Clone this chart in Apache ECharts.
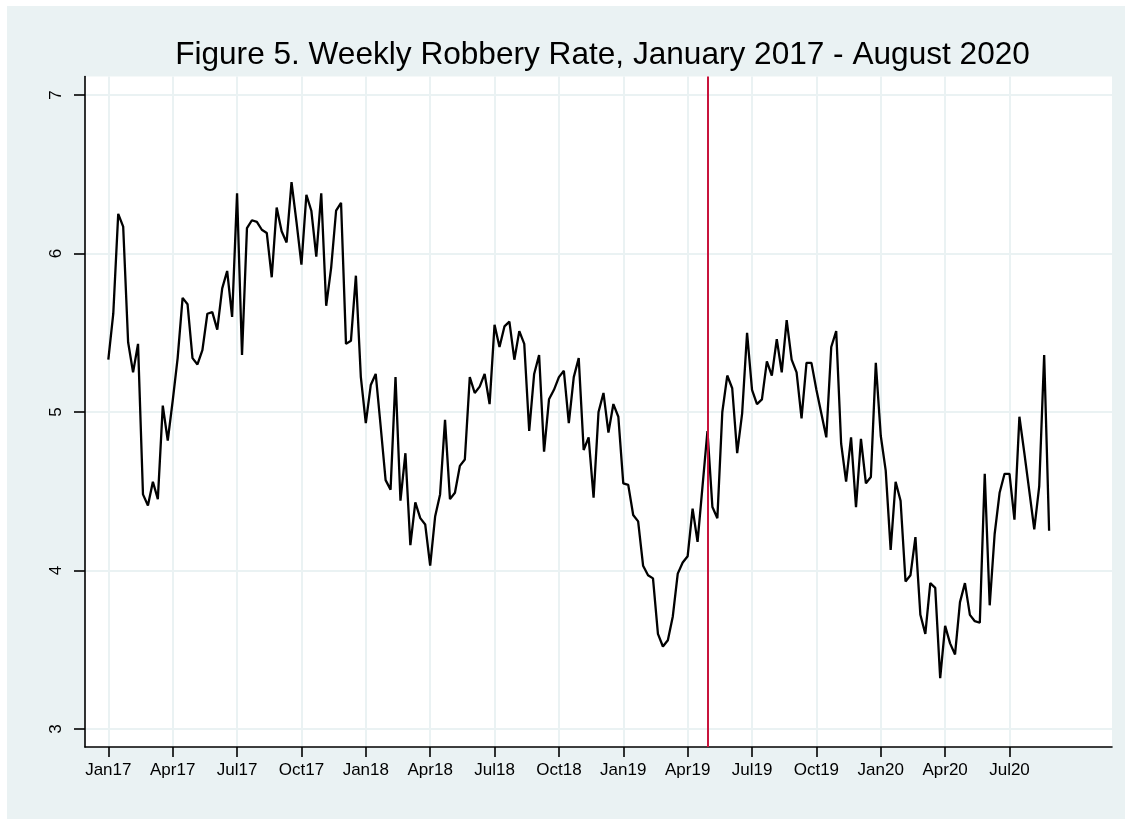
<!DOCTYPE html>
<html>
<head>
<meta charset="utf-8">
<title>Weekly Robbery Rate</title>
<script src="https://cdn.jsdelivr.net/npm/echarts@6/dist/echarts.min.js"></script>
<style>
html, body { margin: 0; padding: 0; background: #fff; }
#main { position: absolute; left: 7px; top: 6px; width: 1118px; height: 813px; }
</style>
</head>
<body>
<div id="main"></div>
<script>
// weekly robbery rate, week 0 = first week of Jan 2017 (52 weeks a year)
var robberyRate = [
	5.33, 5.62, 6.25, 6.17, 5.44, 5.25, 5.43, 4.48, 4.41, 4.56,
	4.45, 5.04, 4.82, 5.07, 5.34, 5.72, 5.68, 5.34, 5.30, 5.39,
	5.62, 5.63, 5.52, 5.78, 5.89, 5.60, 6.38, 5.36, 6.16, 6.21,
	6.20, 6.15, 6.13, 5.85, 6.29, 6.14, 6.07, 6.45, 6.20, 5.93,
	6.37, 6.27, 5.98, 6.38, 5.67, 5.91, 6.27, 6.32, 5.43, 5.45,
	5.86, 5.22, 4.93, 5.17, 5.24, 4.91, 4.57, 4.51, 5.22, 4.44,
	4.74, 4.16, 4.43, 4.33, 4.29, 4.03, 4.34, 4.48, 4.95, 4.45,
	4.49, 4.66, 4.70, 5.22, 5.12, 5.16, 5.24, 5.05, 5.55, 5.41,
	5.54, 5.57, 5.33, 5.51, 5.43, 4.88, 5.24, 5.36, 4.75, 5.08,
	5.14, 5.22, 5.26, 4.93, 5.22, 5.34, 4.76, 4.84, 4.46, 5.00,
	5.12, 4.87, 5.05, 4.97, 4.55, 4.54, 4.35, 4.31, 4.03, 3.97,
	3.95, 3.60, 3.52, 3.56, 3.71, 3.98, 4.05, 4.09, 4.39, 4.18,
	4.53, 4.88, 4.40, 4.33, 5.00, 5.23, 5.15, 4.74, 4.99, 5.50,
	5.14, 5.05, 5.08, 5.32, 5.23, 5.46, 5.25, 5.58, 5.33, 5.25,
	4.96, 5.31, 5.31, 5.14, 4.99, 4.84, 5.41, 5.51, 4.80, 4.56,
	4.84, 4.40, 4.83, 4.55, 4.59, 5.31, 4.85, 4.63, 4.13, 4.56,
	4.44, 3.93, 3.97, 4.21, 3.72, 3.60, 3.92, 3.89, 3.32, 3.65,
	3.54, 3.47, 3.80, 3.92, 3.72, 3.68, 3.67, 4.61, 3.78, 4.23,
	4.49, 4.61, 4.61, 4.32, 4.97, 4.74, 4.50, 4.26, 4.53, 5.36,
	4.25
];

// x ticks (week numbers) and their labels
var tickWeeks = [0, 13, 26, 39, 52, 65, 78, 91, 104, 117, 130, 143, 156, 169, 182];
var tickLabels = ['Jan17', 'Apr17', 'Jul17', 'Oct17', 'Jan18', 'Apr18', 'Jul18', 'Oct18',
	'Jan19', 'Apr19', 'Jul19', 'Oct19', 'Jan20', 'Apr20', 'Jul20'];
var yTicks = [3, 4, 5, 6, 7];

// week of the vertical red line (early May 2019)
var breakWeek = 121;

var titleText = 'Figure 5. Weekly Robbery Rate, January 2017 - August 2020';

var myChart = echarts.init(document.getElementById('main'));

var seriesData = robberyRate.map(function(v, i) {
	return [i, v];
});

var font = '"Liberation Sans", Arial, Helvetica, sans-serif';
var gridColor = '#eaf2f3';

option = {
	animation: false,
	backgroundColor: '#eaf2f3',
	graphic: [{
		type: 'text',
		x: 595.5,
		y: 49.4,
		style: {
			text: titleText,
			fontSize: 31.6,
			fontFamily: font,
			fill: '#000',
			align: 'center',
			verticalAlign: 'middle'
		}
	}],
	grid: {
		left: 78,
		right: 13,
		top: 70.5,
		bottom: 72,
		show: true,
		backgroundColor: '#fff',
		borderWidth: 0
	},
	xAxis: {
		type: 'value',
		min: -4.71,
		max: 202.7,
		axisLine: {
			show: true,
			onZero: false,
			lineStyle: { color: '#000', width: 1.6 }
		},
		axisTick: {
			show: true,
			customValues: tickWeeks,
			length: 10,
			lineStyle: { color: '#000', width: 1.6 }
		},
		axisLabel: {
			customValues: tickWeeks,
			formatter: function(v) {
				var k = tickWeeks.indexOf(v);
				return k >= 0 ? tickLabels[k] : '';
			},
			fontSize: 17,
			fontFamily: font,
			color: '#000',
			margin: 15
		},
		splitLine: {
			show: true,
			lineStyle: { color: gridColor, width: 2 }
		}
	},
	yAxis: {
		type: 'value',
		min: 2.886,
		max: 7.117,
		axisLine: {
			show: true,
			onZero: false,
			lineStyle: { color: '#000', width: 1.6 }
		},
		axisTick: {
			show: true,
			customValues: yTicks,
			length: 11,
			lineStyle: { color: '#000', width: 1.6 }
		},
		axisLabel: {
			customValues: yTicks,
			rotate: 90,
			fontSize: 17,
			fontFamily: font,
			color: '#000',
			margin: 20
		},
		splitLine: {
			show: true,
			lineStyle: { color: gridColor, width: 2 }
		}
	},
	series: [{
		name: 'Robbery rate',
		type: 'line',
		data: seriesData,
		showSymbol: false,
		silent: true,
		lineStyle: { color: '#000', width: 2.3 },
		markLine: {
			silent: true,
			symbol: ['none', 'none'],
			label: { show: false },
			lineStyle: { color: '#c8143c', width: 2, type: 'solid' },
			data: [{ xAxis: breakWeek }]
		}
	}]
};

myChart.setOption(option);
</script>
</body>
</html>
